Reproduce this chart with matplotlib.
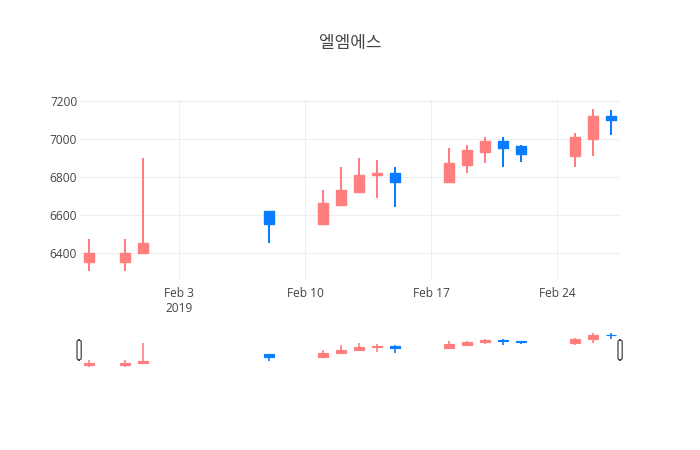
import matplotlib
matplotlib.use("Agg")
import matplotlib.pyplot as plt
import matplotlib.dates as mdates
from matplotlib.patches import FancyBboxPatch
import numpy as np
import datetime as dt

plt.rcParams['font.family'] = ['Open Sans', 'Noto Sans CJK KR', 'DejaVu Sans']

title = "엘엠에스"
dates = ["2019-01-29", "2019-01-31", "2019-02-01", "2019-02-08", "2019-02-11",
         "2019-02-12", "2019-02-13", "2019-02-14", "2019-02-15", "2019-02-18",
         "2019-02-19", "2019-02-20", "2019-02-21", "2019-02-22", "2019-02-25",
         "2019-02-26", "2019-02-27"]
opens = [6350, 6350, 6400, 6620, 6550, 6650, 6720, 6810, 6820, 6770,
         6860, 6930, 6990, 6960, 6910, 7000, 7120]
highs = [6470, 6470, 6900, 6620, 6730, 6850, 6900, 6890, 6850, 6950,
         6970, 7010, 7010, 6970, 7030, 7160, 7150]
lows = [6300, 6300, 6400, 6450, 6550, 6650, 6720, 6690, 6640, 6770,
        6820, 6870, 6850, 6880, 6850, 6910, 7020]
closes = [6400, 6400, 6450, 6550, 6660, 6730, 6810, 6820, 6770, 6870,
          6940, 6990, 6950, 6920, 7010, 7120, 7100]
yticks = [6400, 6600, 6800, 7000, 7200]

UP = '#ff7f7f'
DOWN = '#0a7cff'
TXT = '#444444'
GRID = '#eeeeee'

x = mdates.date2num([dt.datetime.strptime(d, "%Y-%m-%d") for d in dates])
o = np.array(opens); h = np.array(highs); l = np.array(lows); c = np.array(closes)
cols = [UP if cc >= oo else DOWN for oo, cc in zip(o, c)]
xmin, xmax = x[0] - 0.5, x[-1] + 0.5

W, H = 700, 450
fig = plt.figure(figsize=(7, 4.5), dpi=100)
ax = fig.add_axes([80 / W, (H - 280) / H, 540 / W, 180 / H])
sl = fig.add_axes([80 / W, (H - 370) / H, 540 / W, 40.5 / H])


def candles(a, lw):
    a.vlines(x, l, h, colors=cols, linewidth=lw, zorder=2)
    a.bar(x, np.abs(c - o), bottom=np.minimum(o, c), width=0.55,
          color=cols, edgecolor=cols, linewidth=lw * 0.7, zorder=3)
    a.set_xlim(xmin, xmax)


candles(ax, 1.45)
ax.set_ylim(6255, 7205)
ax.set_yticks(yticks)
ax.set_yticklabels([str(v) for v in yticks])
xt = mdates.date2num([dt.datetime(2019, 2, d) for d in (3, 10, 17, 24)])
ax.set_xticks(xt)
ax.set_xticklabels(["Feb 3\n2019", "Feb 10", "Feb 17", "Feb 24"],
                   linespacing=1.25)
ax.grid(True, color=GRID, linewidth=0.8, zorder=0)
ax.set_axisbelow(True)
for s in ax.spines.values():
    s.set_visible(False)
ax.tick_params(length=0, colors=TXT, labelsize=8.6)
ax.tick_params(axis='x', pad=5)
ax.tick_params(axis='y', pad=2)

candles(sl, 1.2)
sl.set_ylim(6220, 7250)
sl.axis('off')

for px in (77, 618):
    fig.patches.append(FancyBboxPatch((px / W, (H - 360) / H), 4.2 / W, 20 / H,
                                      boxstyle="round,pad=0,rounding_size=0.004",
                                      transform=fig.transFigure,
                                      facecolor='white', edgecolor=TXT,
                                      linewidth=0.9))

fig.text(0.5, 1 - 43 / H, title, ha='center', va='center', fontsize=12.2,
         color=TXT, family=['Noto Sans CJK KR', 'DejaVu Sans'])

fig.savefig("out.png", dpi=100)
